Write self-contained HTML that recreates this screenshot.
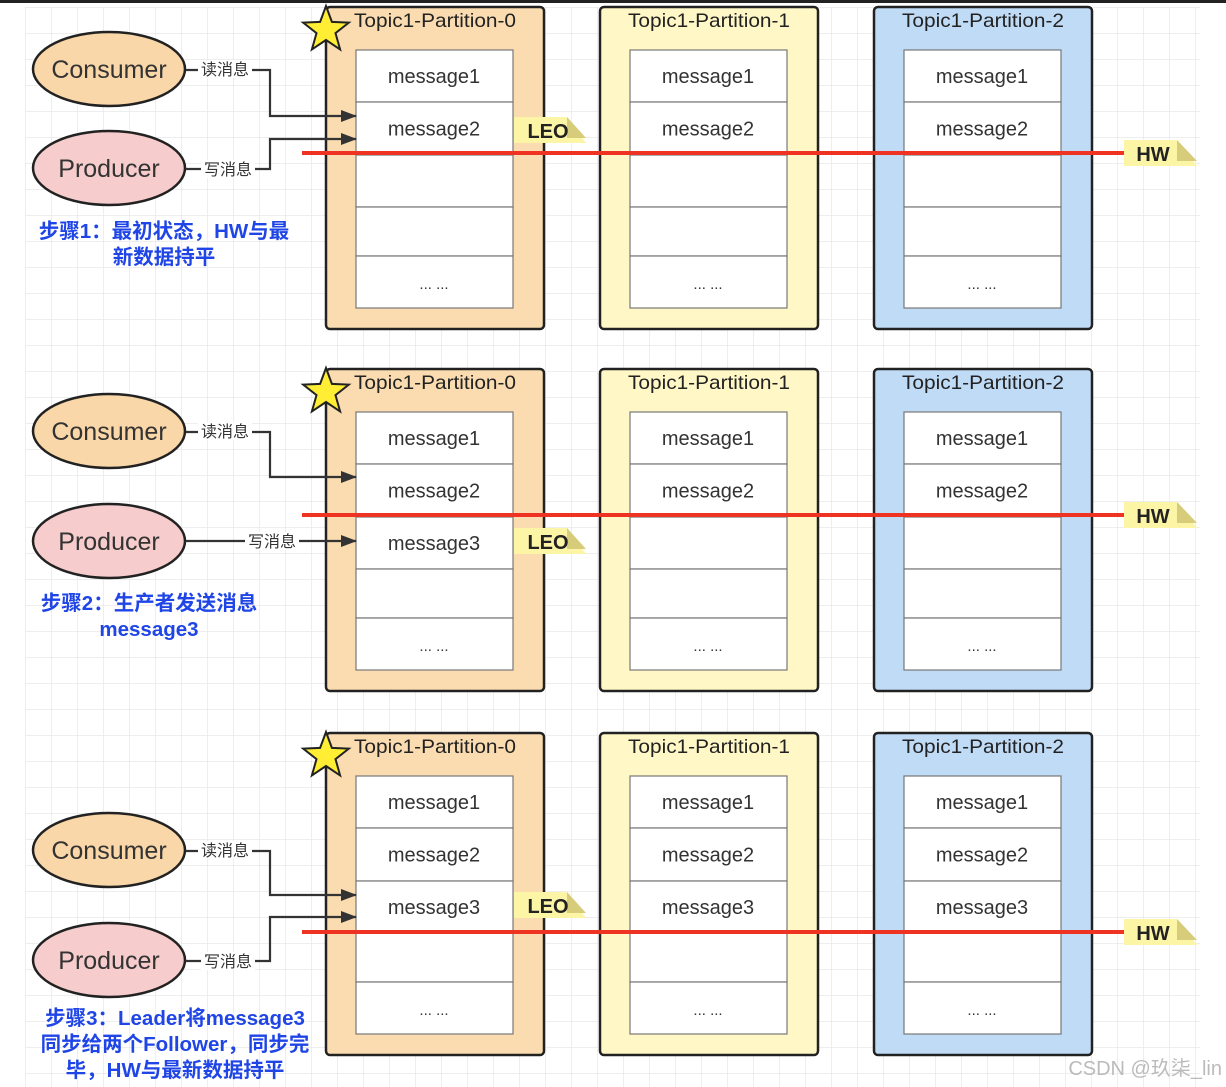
<!DOCTYPE html>
<html><head><meta charset="utf-8"><style>
body{margin:0;background:#fff;}
svg{display:block;font-family:"Liberation Sans","Noto Sans CJK SC",sans-serif;}
</style></head><body>
<svg width="1226" height="1087" viewBox="0 0 1226 1087" xmlns="http://www.w3.org/2000/svg">
<defs>
<pattern id="g" width="26" height="26" patternUnits="userSpaceOnUse" x="25" y="7">
<path d="M0 0H26M0 0V26" stroke="#e8e8e8" stroke-width="1.5" fill="none"/>
</pattern>
<marker id="a" markerWidth="16" markerHeight="14" refX="15" refY="7" orient="auto" markerUnits="userSpaceOnUse">
<path d="M0 1L16 7L0 13Z" fill="#333"/>
</marker>
</defs>
<rect x="0" y="0" width="1226" height="1087" fill="#fff"/>
<rect x="25" y="7" width="1175" height="1080" fill="url(#g)"/>
<rect x="0" y="0" width="1226" height="3" fill="#222"/>
</svg>
<script>
(function(){
const svg=document.querySelector('svg');
const NS='http://www.w3.org/2000/svg';
function el(t,a,txt){const e=document.createElementNS(NS,t);for(const k in a)e.setAttribute(k,a[k]);if(txt!==undefined)e.textContent=txt;svg.appendChild(e);return e;}
const secs=[
 {o:0,msgs:[["message1","message2","","",""],["message1","message2","","",""],["message1","message2","","",""]],hw:153,leo:130,c:69,p:168,read:116,write:139,straight:false,
  step:[["步骤1：最初状态，HW与最",164,231],["新数据持平",164,257]]},
 {o:362,msgs:[["message1","message2","message3","",""],["message1","message2","","",""],["message1","message2","","",""]],hw:515,leo:541,c:431,p:541,read:477,write:541,straight:true,
  step:[["步骤2：生产者发送消息",149,603],["message3",149,629]]},
 {o:725,msgs:[["message1","message2","message3","",""],["message1","message2","message3","",""],["message1","message2","message3","",""]],hw:932,leo:905,c:850,p:960,read:895,write:917,straight:false,
  step:[["步骤3：Leader将message3",175,1018],["同步给两个Follower，同步完",175,1044],["毕，HW与最新数据持平",175,1070]]}
];
const px=[326,600,874],fills=["#fadcb0","#fff7c6","#c0dbf6"];
const rows=[43,95,148,200,249,301];
secs.forEach(s=>{
 const top=7+s.o+(s.o==725?1:0);
 for(let i=0;i<3;i++){
  el('rect',{x:px[i],y:top,width:218,height:322,rx:4,fill:fills[i],stroke:'#222','stroke-width':2.5});
  el('text',{x:px[i]+109,y:top+20,'text-anchor':'middle','font-size':19.5,fill:'#222',textLength:162,lengthAdjust:'spacingAndGlyphs'},'Topic1-Partition-'+i);
  for(let r=0;r<5;r++){
   const y1=top+rows[r],y2=top+rows[r+1];
   el('rect',{x:px[i]+30,y:y1,width:157,height:y2-y1,fill:'#fff',stroke:'#777','stroke-width':1.2});
   const t=r==4?'... ...':s.msgs[i][r];
   if(t)el('text',{x:px[i]+108,y:(y1+y2)/2+7,'text-anchor':'middle','font-size':r==4?15:20,fill:'#333'},t);
  }
 }
 const cx=326,cy=top+23,R=24,r2=10;let pts=[];
 for(let k=0;k<10;k++){const ang=-Math.PI/2+k*Math.PI/5,rr=k%2?r2:R;pts.push((cx+rr*Math.cos(ang)).toFixed(1)+','+(cy+rr*Math.sin(ang)).toFixed(1));}
 el('polygon',{points:pts.join(' '),fill:'#ffee33',stroke:'#222','stroke-width':2});
 el('ellipse',{cx:109,cy:s.c,rx:76,ry:37,fill:'#fad7a8',stroke:'#222','stroke-width':2.5});
 el('text',{x:109,y:s.c+9,'text-anchor':'middle','font-size':25,fill:'#333'},'Consumer');
 el('ellipse',{cx:109,cy:s.p,rx:76,ry:37,fill:'#f7cccc',stroke:'#222','stroke-width':2.5});
 el('text',{x:109,y:s.p+9,'text-anchor':'middle','font-size':25,fill:'#333'},'Producer');
 el('path',{d:`M186 ${s.c+1}H270V${s.read}H356`,fill:'none',stroke:'#333','stroke-width':2.2,'marker-end':'url(#a)'});
 el('rect',{x:198,y:s.c-9,width:54,height:18,fill:'#fff'});
 el('text',{x:225,y:s.c+6,'text-anchor':'middle','font-size':16,fill:'#333'},'读消息');
 if(s.straight){
  el('path',{d:`M186 ${s.p}H356`,fill:'none',stroke:'#333','stroke-width':2.2,'marker-end':'url(#a)'});
  el('rect',{x:245,y:s.p-9,width:54,height:18,fill:'#fff'});
  el('text',{x:272,y:s.p+6,'text-anchor':'middle','font-size':16,fill:'#333'},'写消息');
 }else{
  el('path',{d:`M186 ${s.p+1}H270V${s.write}H356`,fill:'none',stroke:'#333','stroke-width':2.2,'marker-end':'url(#a)'});
  el('rect',{x:201,y:s.p-8,width:54,height:18,fill:'#fff'});
  el('text',{x:228,y:s.p+7,'text-anchor':'middle','font-size':16,fill:'#333'},'写消息');
 }
 el('line',{x1:302,y1:s.hw,x2:1124,y2:s.hw,stroke:'#ee3322','stroke-width':4});
 el('path',{d:`M1124 ${s.hw-13}H1177L1197 ${s.hw+13}H1124Z`,fill:'#fdf5a6'});
 el('path',{d:`M1177 ${s.hw-13}L1197 ${s.hw+8}H1177Z`,fill:'#d6cc7a'});
 el('text',{x:1153,y:s.hw+8,'text-anchor':'middle','font-size':20,'font-weight':'bold',fill:'#222'},'HW');
 const ly=s.leo;
 el('path',{d:`M514 ${ly-13}H567L586 ${ly+13}H514Z`,fill:'#fdf5a6'});
 el('path',{d:`M567 ${ly-13}L586 ${ly+8}H567Z`,fill:'#d6cc7a'});
 el('text',{x:548,y:ly+8,'text-anchor':'middle','font-size':20,'font-weight':'bold',fill:'#222'},'LEO');
 s.step.forEach(t=>el('text',{x:t[1],y:t[2]+7,'text-anchor':'middle','font-size':20.5,'font-weight':'bold',fill:'#1f45e6'},t[0]));
});
el('text',{x:1222,y:1075,'text-anchor':'end','font-size':20,fill:'#bbb'},'CSDN @玖柒_lin');
})();
</script>
</body></html>
